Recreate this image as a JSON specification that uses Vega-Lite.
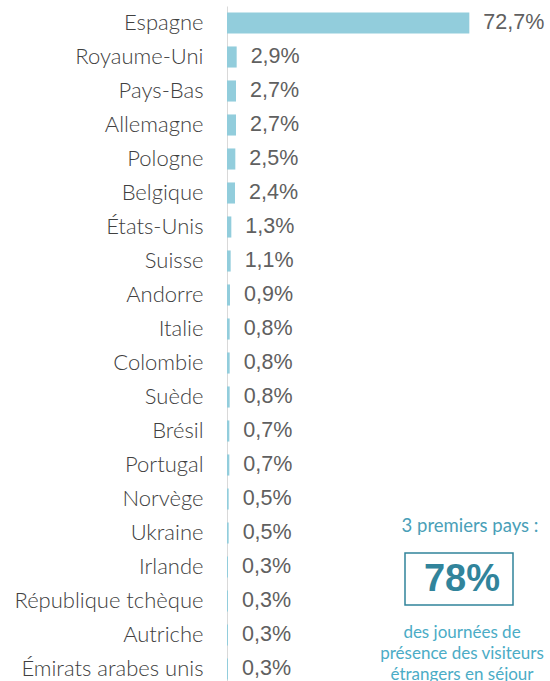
{
  "$schema": "https://vega.github.io/schema/vega-lite/v6.json",
  "width": 300,
  "height": 680,
  "autosize": {"type": "none"},
  "padding": {"left": 227, "top": 6, "right": 23, "bottom": 0},
  "background": "white",
  "config": {
    "view": {"stroke": null},
    "locale": {"number": {"decimal": ",", "thousands": " ", "grouping": [3], "currency": ["", " €"]}}
  },
  "layer": [
    {
      "data": {"values": [
        {"pays": "Espagne", "part": 0.727},
        {"pays": "Royaume-Uni", "part": 0.029},
        {"pays": "Pays-Bas", "part": 0.027},
        {"pays": "Allemagne", "part": 0.027},
        {"pays": "Pologne", "part": 0.025},
        {"pays": "Belgique", "part": 0.024},
        {"pays": "États-Unis", "part": 0.013},
        {"pays": "Suisse", "part": 0.011},
        {"pays": "Andorre", "part": 0.009},
        {"pays": "Italie", "part": 0.008},
        {"pays": "Colombie", "part": 0.008},
        {"pays": "Suède", "part": 0.008},
        {"pays": "Brésil", "part": 0.007},
        {"pays": "Portugal", "part": 0.007},
        {"pays": "Norvège", "part": 0.005},
        {"pays": "Ukraine", "part": 0.005},
        {"pays": "Irlande", "part": 0.003},
        {"pays": "République tchèque", "part": 0.003},
        {"pays": "Autriche", "part": 0.003},
        {"pays": "Émirats arabes unis", "part": 0.003}
      ]},
      "encoding": {
        "y": {
          "field": "pays", "type": "nominal", "sort": null,
          "scale": {"paddingInner": 0.38, "paddingOuter": 0.19},
          "axis": {
            "title": null, "ticks": false, "grid": false,
            "domainColor": "#d9d9d9", "domainWidth": 1,
            "labelFont": "Lato", "labelFontSize": 22, "labelFontWeight": 300, "labelColor": "#404040",
            "labelPadding": 24, "labelLimit": 400
          }
        },
        "x": {
          "field": "part", "type": "quantitative",
          "scale": {"domain": [0, 0.9], "nice": false, "zero": true},
          "axis": null
        }
      },
      "layer": [
        {"mark": {"type": "bar", "color": "#92cddc"}},
        {
          "mark": {"type": "text", "align": "left", "baseline": "middle", "dx": 14,
                   "font": "Liberation Sans", "fontSize": 21.5, "color": "#606060"},
          "encoding": {"text": {"field": "part", "type": "quantitative", "format": ".1%"}}
        }
      ]
    },
    {
      "data": {"values": [
        {"texte": "3 premiers pays :", "x": 0.729, "rang": 15.29, "role": "titre"},
        {"texte": "78%", "x": 0.705, "rang": 16.88, "role": "chiffre"},
        {"texte": "des journées de", "x": 0.705, "rang": 18.44, "role": "note"},
        {"texte": "présence des visiteurs", "x": 0.705, "rang": 19.06, "role": "note"},
        {"texte": "étrangers en séjour", "x": 0.705, "rang": 19.68, "role": "note"}
      ]},
      "encoding": {
        "x": {"field": "x", "type": "quantitative", "axis": null},
        "y": {"field": "rang", "type": "quantitative", "axis": null,
              "scale": {"domain": [0, 20], "reverse": true, "nice": false, "zero": false}}
      },
      "layer": [
        {
          "transform": [{"filter": "datum.role === 'titre'"}],
          "mark": {"type": "text", "align": "center", "baseline": "middle", "font": "Lato", "fontSize": 18.5, "color": "#4a9fb8"},
          "encoding": {"text": {"field": "texte"}}
        },
        {
          "transform": [{"filter": "datum.role === 'chiffre'"}],
          "mark": {"type": "text", "align": "center", "baseline": "middle", "font": "Liberation Sans", "fontWeight": "bold", "fontSize": 38, "color": "#31849b"},
          "encoding": {"text": {"field": "texte"}}
        },
        {
          "transform": [{"filter": "datum.role === 'note'"}],
          "mark": {"type": "text", "align": "center", "baseline": "middle", "font": "Lato", "fontSize": 17, "color": "#4bacc6"},
          "encoding": {"text": {"field": "texte"}}
        }
      ]
    },
    {
      "data": {"values": [{"x1": 0.534, "x2": 0.858, "haut": 16.09, "bas": 17.62}]},
      "mark": {"type": "rect", "fill": null, "stroke": "#31849b", "strokeWidth": 1.5},
      "encoding": {
        "x": {"field": "x1", "type": "quantitative", "axis": null},
        "x2": {"field": "x2"},
        "y": {"field": "haut", "type": "quantitative", "axis": null,
              "scale": {"domain": [0, 20], "reverse": true, "nice": false, "zero": false}},
        "y2": {"field": "bas"}
      }
    }
  ],
  "resolve": {"scale": {"y": "independent"}}
}
